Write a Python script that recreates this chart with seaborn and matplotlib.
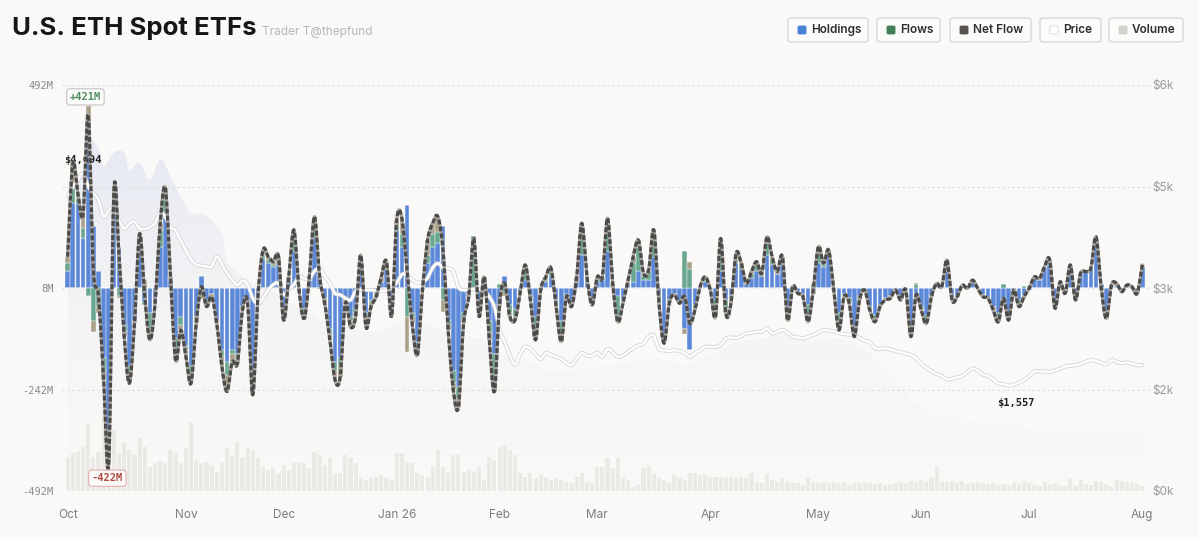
import numpy as np
import matplotlib
matplotlib.use("Agg")
import matplotlib.pyplot as plt
import matplotlib.patheffects as pe
from matplotlib.patches import FancyBboxPatch
import seaborn as sns

sns.set_theme(style="white")
plt.rcParams['font.family'] = ['Inter', 'DejaVu Sans']

# ---- data (trading days from Oct 1) ----
month_starts = [0, 23, 42, 64, 84, 103, 125, 146, 166, 187, 209]
month_labels = ['Oct', 'Nov', 'Dec', 'Jan 26', 'Feb', 'Mar', 'Apr', 'May', 'Jun', 'Jul', 'Aug']

# daily flows by group ($M)
blue_flow = [
    40, 205, 205, 120, 400, 150, 40, -170, -350, 180,
    100, -90, -190, -80, 110, -35, -60, -30, 100, 170,
    20, -120, -70, -140, -190, -70, 30, -30, -15, -80,
    -150, -180, -150, -160, -45, -30, -200, -20, 70, 60,
    50, 55, -60, 20, 90, 0, -50, 20, 120, 30,
    -25, -100, -180, -170, -25, -70, -50, 55, -60, -30,
    -15, 15, 45, -40, 140, 100, 200, -60, -130, -5,
    60, 100, 110, 150, -80, -200, -240, -60, -15, 0,
    -40, 20, -80, -160, -40, 30, -40, -50, -10, 20,
    -20, -70, 0, 15, 30, -30, -80, -15, -30, 15,
    80, 15, -30, 15, 20, 90, 5, -20, -30, 10,
    15, 40, 20, 20, 75, -15, -120, -30, -15, -35,
    -100, -150, -40, 5, 15, -5, -30, 40, -30, -20,
    60, 45, 10, 25, 40, 30, 80, 55, 35, 55,
    -50, 5, -10, -15, -40, -5, 60, 50, 80, -5,
    -60, -15, -25, -95, -20, -5, -45, -65, -40, -25,
    -20, -5, -20, -5, -100, -30, -45, -65, -20, 8,
    3, 40, -25, -20, 5, 0, 15, 0, -18, -25,
    -45, -60, -35, -65, -5, -30, -20, -5, 25, 20,
    50, 55, -40, 12, -10, 50, -25, 35, 40, 45,
    110, 10, -55, 5, 5, -5, 5, 5, -10, 50,
]
teal_flow = [
    20, 35, 10, 25, -20, -80, -45, -30, -40, 30,
    -20, -15, -20, 0, 15, -5, -40, 0, 40, 45,
    0, -30, -20, -10, -20, 0, -15, -10, 0, 0,
    -15, -30, -10, -10, 0, -5, -40, 0, 10, 8,
    5, 10, -10, 0, 35, 0, -10, 0, 30, 0,
    -5, -15, -20, -20, -5, -10, -10, 0, -10, -5,
    0, 0, 0, -10, 10, 30, -70, -10, -15, 0,
    20, 30, 25, -30, -10, -30, -30, -15, 0, 125,
    -10, 0, -30, -70, 10, -10, -20, -20, 0, 20,
    -5, -45, 0, 5, 10, -10, -40, -5, -10, 5,
    60, 5, -5, 5, 5, 50, 0, -55, -5, 5,
    45, 60, 10, 20, 45, -20, -10, -5, 0, 0,
    90, 45, -10, 0, 5, 0, -30, 60, -20, -10,
    10, 10, 0, 10, 20, 0, 30, 15, 0, 10,
    -20, 0, 0, -5, -35, 10, 30, 5, 5, 0,
    -35, -5, -10, -15, -5, 0, -5, -10, -5, 0,
    0, 0, -9, 0, -10, 10, -5, -15, 0, 0,
    0, 25, -4, 0, 0, 0, 0, 0, 0, 0,
    0, -10, 10, -10, 0, -10, 5, 0, 0, 0,
    0, 10, -9, 0, 0, 0, 0, 0, 0, 0,
    0, -5, -15, 0, 0, 0, 0, 0, 0, 0,
]
other_flow = [
    16, 62, 14, 32, 41, -26, -15, -23, -32, 28,
    -4, -13, -21, -6, 7, 19, -26, -7, 17, 27,
    7, -25, -12, -16, -21, -16, -12, -5, -6, -6,
    -26, -41, -19, -13, -8, -2, -19, -1, 12, 8,
    9, 11, -8, 7, 16, -5, -14, 7, 23, -3,
    -7, -11, -23, -25, -7, -14, -9, 25, -24, -10,
    -6, 12, 19, -19, 15, 39, -86, -16, -17, 0,
    36, 27, 38, -28, -12, -17, -18, -11, -6, -5,
    -19, 7, -16, -21, -7, -9, -9, -8, -3, 16,
    -4, -11, -5, 7, 8, -5, -10, -1, -5, 7,
    17, 7, -6, 7, 2, 29, 6, -7, -2, 4,
    16, 16, 6, 4, 21, -2, -4, -2, -2, -2,
    -11, 19, -3, -2, 7, 0, -9, 20, -11, -7,
    14, 5, 1, 5, 4, 6, 14, 6, 5, 11,
    -8, -2, -3, -1, -7, -10, 10, 5, 7, 0,
    -7, -1, -2, -8, -4, 0, -3, -7, 0, -4,
    -5, 0, 0, 0, -8, 3, -3, -6, -1, 3,
    0, 3, 0, -1, 2, -1, 4, -1, -3, 0,
    -8, -12, 0, -3, 0, -5, -6, 4, 2, 3,
    2, 3, 0, 3, -3, 6, -4, 1, 0, 3,
    14, -2, -4, 2, 6, -4, 2, -2, -3, 6,
]
# ETH price ($)
price = [
    4350, 4500, 4600, 4694, 4500, 4400, 4300, 4050, 4150, 4180,
    4000, 3880, 3950, 3980, 3880, 3870, 3900, 3960, 4120, 4050,
    3900, 3850, 3700, 3560, 3420, 3350, 3330, 3320, 3317, 3465,
    3350, 3220, 3120, 3040, 3110, 3050, 2850, 2760, 2850, 2970,
    3050, 3070, 2900, 2980, 3050, 3170, 3140, 3130, 3250, 3280,
    3180, 3070, 2920, 2900, 2850, 2820, 2950, 2970, 2970, 2970,
    2960, 2960, 2960, 3000, 3080, 3200, 3200, 3120, 3080, 3090,
    3150, 3300, 3365, 3300, 3290, 3250, 3010, 2970, 2975, 2985,
    2980, 2960, 2870, 2720, 2380, 2200, 2000, 1870, 2020, 2130,
    2100, 2020, 1950, 2040, 2010, 1985, 1950, 1890, 1860, 1960,
    2040, 2000, 2000, 2040, 1985, 2100, 2050, 1985, 2000, 2060,
    2110, 2150, 2180, 2280, 2300, 2100, 2080, 2070, 2080, 2070,
    2040, 1985, 2035, 2080, 2130, 2130, 2130, 2160, 2250, 2270,
    2260, 2290, 2330, 2340, 2355, 2355, 2405, 2330, 2350, 2380,
    2340, 2280, 2270, 2255, 2280, 2305, 2340, 2380, 2370, 2360,
    2330, 2320, 2310, 2310, 2260, 2220, 2200, 2110, 2100, 2110,
    2090, 2070, 2050, 2030, 2010, 1960, 1880, 1820, 1770, 1730,
    1700, 1650, 1660, 1680, 1700, 1760, 1810, 1780, 1720, 1700,
    1650, 1590, 1580, 1557, 1570, 1600, 1640, 1700, 1765, 1770,
    1765, 1760, 1780, 1810, 1840, 1850, 1860, 1880, 1910, 1935,
    1920, 1900, 1870, 1935, 1910, 1890, 1900, 1880, 1860, 1860,
]
# trading volume (relative units)
volume = [
    34, 38, 39, 44, 68, 34, 39, 79, 31, 61,
    38, 48, 41, 36, 53, 44, 24, 28, 31, 28,
    41, 38, 28, 43, 69, 31, 28, 29, 26, 19,
    28, 43, 36, 49, 34, 43, 41, 34, 24, 21,
    23, 18, 26, 21, 28, 29, 28, 23, 39, 36,
    26, 34, 18, 18, 36, 34, 28, 14, 11, 13,
    14, 16, 13, 11, 38, 38, 28, 28, 18, 16,
    14, 24, 41, 24, 18, 36, 36, 19, 21, 19,
    24, 11, 34, 31, 44, 46, 41, 36, 18, 14,
    18, 13, 16, 14, 11, 13, 11, 9, 8, 14,
    18, 9, 8, 24, 24, 33, 23, 33, 14, 11,
    4, 6, 23, 26, 18, 13, 11, 8, 16, 13,
    11, 18, 18, 16, 16, 14, 14, 14, 13, 14,
    13, 14, 13, 18, 9, 8, 18, 11, 9, 13,
    9, 8, 8, 6, 13, 9, 8, 9, 8, 9,
    8, 9, 6, 8, 8, 9, 8, 7, 8, 6,
    7, 8, 9, 8, 10, 9, 11, 10, 14, 24,
    10, 9, 10, 8, 10, 7, 8, 9, 8, 7,
    8, 6, 7, 6, 9, 7, 10, 8, 6, 5,
    9, 7, 8, 6, 5, 12, 5, 11, 7, 6,
    10, 9, 7, 5, 11, 10, 9, 8, 7, 5,
]
# background holdings-value area ($, right scale)
aum_days = [0, 3, 4, 6, 7, 9, 11, 12, 14, 16, 18, 20, 22, 24, 26, 28, 30, 31, 33, 35,
            40, 45, 50, 55, 60, 65, 70, 75, 80, 85, 90, 95, 100, 105, 110, 115, 120,
            125, 130, 135, 140, 145, 150, 155, 160, 165, 170, 175, 180, 185, 190,
            195, 200, 205, 209]
aum_value = [4300, 4700, 5200, 5050, 4800, 5000, 5000, 4750, 4850, 4600, 4900, 4650,
             4350, 4100, 4100, 4000, 3800, 3400, 3250, 3100, 2950, 2700, 2500, 2400,
             2350, 2500, 2450, 2300, 2250, 2000, 1900, 1750, 1800, 1850, 1900, 1950,
             1850, 2000, 2200, 2250, 2300, 2200, 2250, 2100, 1700, 1300, 1100, 1050,
             1000, 950, 900, 900, 850, 900, 900]

BG = '#faf9f7'
BLUE = '#5b88d9'
TEAL = '#6aa791'
TAN = '#a9a18a'
W, H = 1199, 537


def smooth(x, y, n=8):
    """Catmull-Rom curve through the points"""
    x = np.asarray(x, float)
    y = np.asarray(y, float)
    xp = np.r_[x[0], x, x[-1]]
    yp = np.r_[y[0], y, y[-1]]
    t = np.linspace(0, 1, n, endpoint=False)
    h00 = 2 * t**3 - 3 * t**2 + 1
    h10 = t**3 - 2 * t**2 + t
    h01 = -2 * t**3 + 3 * t**2
    h11 = t**3 - t**2
    xs, ys = [], []
    for i in range(len(x) - 1):
        a, b = i + 1, i + 2
        for src, out in ((xp, xs), (yp, ys)):
            m0 = (src[b] - src[a - 1]) / 2
            m1 = (src[b + 1] - src[a]) / 2
            out.append(h00 * src[a] + h10 * m0 + h01 * src[b] + h11 * m1)
    xs.append([x[-1]])
    ys.append([y[-1]])
    return np.concatenate(xs), np.concatenate(ys)


def fx(px):
    return px / W


def fy(py):
    return 1 - py / H


days = np.arange(len(price))
net_flow = np.array(blue_flow) + np.array(teal_flow) + np.array(other_flow)

fig = plt.figure(figsize=(W / 100, H / 100), dpi=100, facecolor=BG)
rect = [fx(62), fy(491), fx(1150 - 62), (491 - 85) / H]
ax_bg = fig.add_axes(rect, zorder=1)
ax_vol = fig.add_axes(rect, zorder=2, sharex=ax_bg)
ax_flow = fig.add_axes(rect, zorder=3, sharex=ax_bg)
ax_price = fig.add_axes(rect, zorder=4, sharex=ax_bg)
ax_net = fig.add_axes(rect, zorder=5, sharex=ax_bg, sharey=ax_flow)
for a in (ax_bg, ax_vol, ax_flow, ax_price, ax_net):
    a.patch.set_visible(False)
    for s in a.spines.values():
        s.set_visible(False)
    a.tick_params(length=0)
    a.grid(False)

x0, x1 = -1.1, 210.5

# background area with vertical gradient
ax_bg.set_ylim(0, 6000)
sx, sy = smooth(aum_days, aum_value, n=10)
poly = ax_bg.fill_between(sx, sy, 0, color='none', lw=0)
grad = np.zeros((256, 1, 4))
lev = np.linspace(0, 1, 256)
grad[:, 0, 0] = 0.955 - 0.09 * lev
grad[:, 0, 1] = 0.955 - 0.07 * lev
grad[:, 0, 2] = 0.95 + 0.0 * lev
grad[:, 0, 3] = 0.12 + 0.8 * lev ** 1.4
im = ax_bg.imshow(grad, extent=[x0, x1, 0, 6000], aspect='auto', origin='lower', zorder=0)
im.set_clip_path(poly.get_paths()[0], ax_bg.transData)
for v in [0, 1500, 3000, 4500, 6000]:
    ax_bg.axhline(v, color='#dcdcdc', lw=0.8, ls=(0, (2, 2.5)), zorder=1)
ax_bg.yaxis.tick_right()
ax_bg.set_yticks([0, 1500, 3000, 4500, 6000])
ax_bg.set_yticklabels(['$0k', '$2k', '$3k', '$5k', '$6k'])
ax_bg.tick_params(axis='y', labelsize=8.5, labelcolor='#9a9a9a', pad=2)
ax_bg.set_xticks(month_starts)
ax_bg.set_xticklabels(month_labels)
ax_bg.tick_params(axis='x', labelsize=8.5, labelcolor='#7d7d7d', pad=13)

# volume
ax_vol.bar(days, volume, width=0.8, color='#dcdad4', alpha=0.45, lw=0)
ax_vol.set_ylim(0, 406)
ax_vol.set_yticks([])
ax_vol.tick_params(axis='x', labelbottom=False)

# stacked flows
pos_base = np.zeros(len(days))
neg_base = np.zeros(len(days))
for vals, col in ((blue_flow, BLUE), (teal_flow, TEAL), (other_flow, TAN)):
    v = np.asarray(vals, float)
    pos = np.where(v > 0, v, 0)
    neg = np.where(v < 0, v, 0)
    ax_flow.bar(days, pos, bottom=pos_base, width=0.92, color=col, edgecolor=BG, lw=0.3)
    ax_flow.bar(days, neg, bottom=neg_base, width=0.92, color=col, edgecolor=BG, lw=0.3)
    pos_base += pos
    neg_base += neg
ax_flow.set_ylim(-492, 492)
ax_flow.set_yticks([-492, -246, 0, 246, 492])
ax_flow.set_yticklabels(['-492M', '-242M', '8M', '', '492M'], family='DejaVu Sans Mono')
ax_flow.tick_params(axis='y', labelsize=7.5, labelcolor='#8a8a8a', pad=6)
ax_flow.tick_params(axis='x', labelbottom=False)

# price line
ax_price.set_ylim(0, 6000)
px, py = smooth(days, price, n=6)
ax_price.plot(px, py, color='white', lw=1.7, solid_capstyle='round',
              path_effects=[pe.Stroke(linewidth=2.9, foreground='#d4d4d4'), pe.Normal()])
ax_price.set_yticks([])
ax_price.tick_params(axis='x', labelbottom=False)
imax = int(np.argmax(price))
imin = int(np.argmin(price))
ax_price.annotate(f'${price[imax]:,}', (days[imax], price[imax]), xytext=(0, 6),
                  textcoords='offset points', ha='center', va='bottom', fontsize=7.5,
                  weight='bold', color='#222', family='DejaVu Sans Mono')
ax_price.annotate(f'${price[imin]:,}', (days[imin], price[imin]), xytext=(5, -9),
                  textcoords='offset points', ha='center', va='top', fontsize=7.5,
                  weight='bold', color='#222', family='DejaVu Sans Mono')

# net flow line
nx, ny = smooth(days, net_flow, n=8)
ax_net.plot(nx, ny, color='#a8a39c', lw=2.3, solid_capstyle='round')
ax_net.plot(nx, ny, color='#4b4b4b', lw=2.3, dashes=(1.5, 0.7))
ax_net.tick_params(axis='both', labelbottom=False, labelleft=False)
jmax = int(np.argmax(net_flow))
jmin = int(np.argmin(net_flow))
ax_net.annotate(f'+{net_flow[jmax]:.0f}M', (days[jmax], pos_base[jmax]), xytext=(-2, 3),
                textcoords='offset points', ha='center', va='bottom', fontsize=7.5,
                weight='bold', color='#4e8a5f', family='DejaVu Sans Mono',
                bbox=dict(boxstyle='round,pad=0.3', fc='#fbfbfa', ec='#c9c9c9', lw=0.9))
ax_net.annotate(f'{net_flow[jmin]:.0f}M', (days[jmin], neg_base[jmin]), xytext=(-1, -8),
                textcoords='offset points', ha='center', va='top', fontsize=7.5,
                weight='bold', color='#b5483f', family='DejaVu Sans Mono',
                bbox=dict(boxstyle='round,pad=0.3', fc='#fbfbfa', ec='#e5b7b2', lw=0.9))

for a in (ax_bg, ax_vol, ax_flow, ax_price, ax_net):
    a.set_xlim(x0, x1)

# title
fig.text(fx(12), fy(29), 'U.S. ETH Spot ETFs', fontsize=18.5, weight='bold',
         color='#161616', va='center', ha='left')
fig.text(fx(262), fy(32), 'Trader T@thepfund', fontsize=8.5, color='#b8b8b8',
         va='center', ha='left')

# legend chips
chips = [('Holdings', '#4a7fd8', 788, 868), ('Flows', '#3f7d55', 877, 940),
         ('Net Flow', '#56524c', 950, 1031), ('Price', '#ffffff', 1040, 1101),
         ('Volume', '#d3d1cb', 1109, 1183)]
for name, col, left, right in chips:
    fig.patches.append(FancyBboxPatch((fx(left), fy(42)), fx(right - left), 24 / H,
                                      boxstyle='round,pad=0,rounding_size=0.004',
                                      transform=fig.transFigure, fc='#fbfbfa',
                                      ec='#d8d8d8', lw=1.0))
    fig.patches.append(FancyBboxPatch((fx(left + 10), fy(34)), fx(8), 8 / H,
                                      boxstyle='round,pad=0,rounding_size=0.0015',
                                      transform=fig.transFigure, fc=col,
                                      ec='#d6d6d6' if col == '#ffffff' else col, lw=0.6))
    fig.text(fx(left + 23), fy(30), name, fontsize=8.5, weight='semibold', color='#2e2e2e',
             va='center', ha='left')

fig.savefig('out.png', dpi=100, facecolor=BG)
